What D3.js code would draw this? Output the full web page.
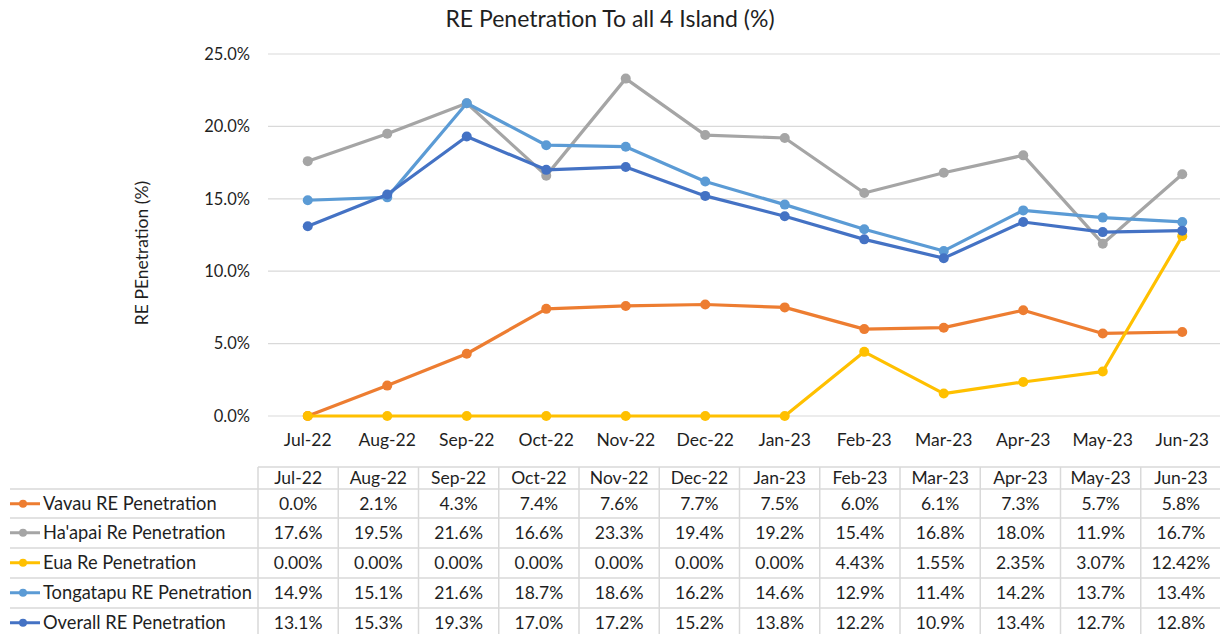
<!DOCTYPE html>
<html>
<head>
<meta charset="utf-8">
<script src="https://cdn.jsdelivr.net/npm/d3@7"></script>
<style>
  body { margin: 0; background: #fff; }
  text { font-family: Lato, "Open Sans", sans-serif; fill: #1f1f1f; }
</style>
</head>
<body>
<svg id="vis" width="1220" height="634"></svg>
<script>
const months = ['Jul-22', 'Aug-22', 'Sep-22', 'Oct-22', 'Nov-22', 'Dec-22', 'Jan-23', 'Feb-23', 'Mar-23', 'Apr-23', 'May-23', 'Jun-23']
const yTicks = [0, 5, 10, 15, 20, 25]

const vavau = [0.0, 2.1, 4.3, 7.4, 7.6, 7.7, 7.5, 6.0, 6.1, 7.3, 5.7, 5.8]
const haapai = [17.6, 19.5, 21.6, 16.6, 23.3, 19.4, 19.2, 15.4, 16.8, 18.0, 11.9, 16.7]
const eua = [0.00, 0.00, 0.00, 0.00, 0.00, 0.00, 0.00, 4.43, 1.55, 2.35, 3.07, 12.42]
const tongatapu = [14.9, 15.1, 21.6, 18.7, 18.6, 16.2, 14.6, 12.9, 11.4, 14.2, 13.7, 13.4]
const overall = [13.1, 15.3, 19.3, 17.0, 17.2, 15.2, 13.8, 12.2, 10.9, 13.4, 12.7, 12.8]

const series = [
  { name: 'Vavau RE Penetration', values: vavau, color: '#ED7D31', digits: 1 },
  { name: "Ha'apai Re Penetration", values: haapai, color: '#A5A5A5', digits: 1 },
  { name: 'Eua Re Penetration', values: eua, color: '#FFC000', digits: 2 },
  { name: 'Tongatapu RE Penetration', values: tongatapu, color: '#5B9BD5', digits: 1 },
  { name: 'Overall RE Penetration', values: overall, color: '#4472C4', digits: 1 }
]

const svg = d3.select('#vis')
svg.append('rect').attr('width', 1220).attr('height', 634).attr('fill', '#fff')

const x = d3.scaleBand().domain(months).range([268, 1222])
const y = d3.scaleLinear().domain([0, 25]).range([416, 54])
const cx = m => x(m) + x.bandwidth() / 2

// title
svg.append('text')
  .attr('x', 610).attr('y', 27)
  .attr('text-anchor', 'middle')
  .style('font-size', '23px')
  .text('RE Penetration To all 4 Island (%)')

// gridlines
svg.append('g')
  .selectAll('line')
  .data(yTicks)
  .enter()
  .append('line')
  .attr('x1', 268).attr('x2', 1222)
  .attr('y1', d => y(d)).attr('y2', d => y(d))
  .attr('stroke', '#D9D9D9')
  .attr('stroke-width', 1.2)

// y axis
const yAxis = svg.append('g')
  .attr('transform', 'translate(260,0)')
  .call(d3.axisLeft(y).tickValues(yTicks).tickSize(0).tickPadding(10).tickFormat(d => d.toFixed(1) + '%'))
yAxis.select('.domain').remove()
yAxis.selectAll('text').style('font-size', '16.5px').attr('fill', '#1f1f1f').style('font-family', 'Lato, sans-serif')

svg.append('text')
  .attr('transform', 'translate(148,253) rotate(-90)')
  .attr('text-anchor', 'middle')
  .style('font-size', '17.5px')
  .text('RE PEnetration (%)')

// x axis
const xAxis = svg.append('g')
  .attr('transform', 'translate(0,416)')
  .call(d3.axisBottom(x).tickSize(0).tickPadding(18))
xAxis.select('.domain').remove()
xAxis.selectAll('text').style('font-size', '17.5px').attr('fill', '#1f1f1f').style('font-family', 'Lato, sans-serif')

// lines
const line = d3.line()
  .x((d, i) => cx(months[i]))
  .y(d => y(d))

for (const s of series) {
  const g = svg.append('g')
  g.append('path')
    .datum(s.values)
    .attr('d', line)
    .attr('fill', 'none')
    .attr('stroke', s.color)
    .attr('stroke-width', 3.2)
    .attr('stroke-linejoin', 'round')
  g.selectAll('circle')
    .data(s.values)
    .enter()
    .append('circle')
    .attr('cx', (d, i) => cx(months[i]))
    .attr('cy', d => y(d))
    .attr('r', 5)
    .attr('fill', s.color)
}

// data table
const tx = d3.scaleBand().domain(months).range([258, 1221])
const rowTop = [489, 518, 548, 578, 608]
const rowH = 29.5
const table = svg.append('g')
const gridColor = '#D9D9D9'

table.append('line')
  .attr('x1', 258).attr('x2', 1220).attr('y1', 467).attr('y2', 467)
  .attr('stroke', gridColor).attr('stroke-width', 1.5)
table.selectAll('.hline')
  .data(rowTop)
  .enter()
  .append('line')
  .attr('x1', 10).attr('x2', 1220)
  .attr('y1', d => d).attr('y2', d => d)
  .attr('stroke', gridColor).attr('stroke-width', 1.5)
table.selectAll('.vline')
  .data(months)
  .enter()
  .append('line')
  .attr('x1', d => tx(d)).attr('x2', d => tx(d))
  .attr('y1', 467).attr('y2', 634)
  .attr('stroke', gridColor).attr('stroke-width', 1.5)

table.selectAll('.head')
  .data(months)
  .enter()
  .append('text')
  .attr('x', d => tx(d) + tx.bandwidth() / 2)
  .attr('y', 478)
  .attr('dy', '0.35em')
  .attr('text-anchor', 'middle')
  .style('font-size', '17.5px')
  .text(d => d)

series.forEach((s, r) => {
  const yc = rowTop[r] + rowH / 2
  const row = table.append('g')
  row.append('line')
    .attr('x1', 10).attr('x2', 40).attr('y1', yc).attr('y2', yc)
    .attr('stroke', s.color).attr('stroke-width', 3)
  row.append('circle')
    .attr('cx', 23).attr('cy', yc).attr('r', 4)
    .attr('fill', s.color)
  row.append('text')
    .attr('x', 43).attr('y', yc)
    .attr('dy', '0.35em')
    .style('font-size', '18.3px')
    .text(s.name)
  row.selectAll('.val')
    .data(s.values)
    .enter()
    .append('text')
    .attr('x', (d, i) => tx(months[i]) + tx.bandwidth() / 2)
    .attr('y', yc)
    .attr('dy', '0.35em')
    .attr('text-anchor', 'middle')
    .style('font-size', '17.5px')
    .text(d => d.toFixed(s.digits) + '%')
})
</script>
</body>
</html>
